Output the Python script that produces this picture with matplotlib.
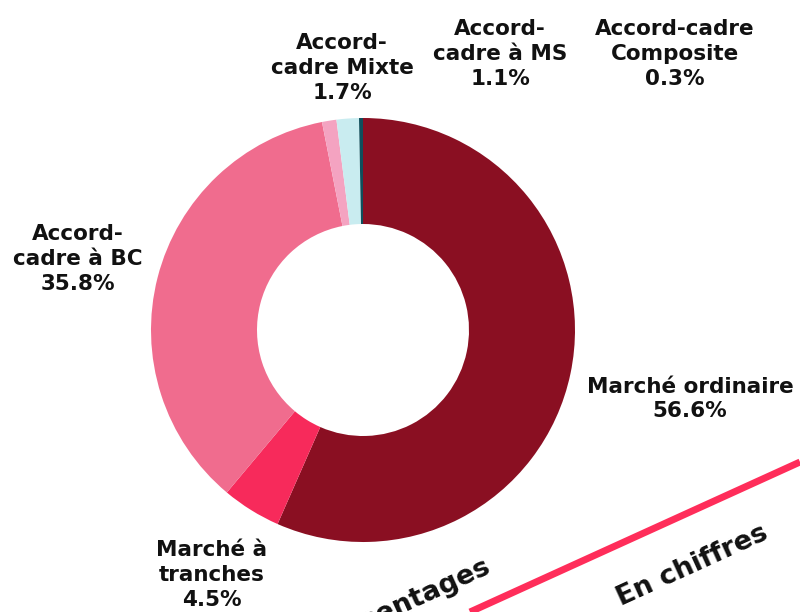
import matplotlib
matplotlib.use("Agg")
import matplotlib.pyplot as plt

categories = ["Marché ordinaire", "Marché à tranches", "Accord-cadre à BC",
              "Accord-cadre à MS", "Accord-cadre Mixte", "Accord-cadre Composite"]
values = [56.6, 4.5, 35.8, 1.1, 1.7, 0.3]
label_texts = ["Marché ordinaire\n56.6%", "Marché à\ntranches\n4.5%", "Accord-\ncadre à BC\n35.8%",
               "Accord-\ncadre à MS\n1.1%", "Accord-\ncadre Mixte\n1.7%", "Accord-cadre\nComposite\n0.3%"]
colors = ["#8A0F22", "#F72A5B", "#F06C8E", "#F4A3C1", "#C9ECF0", "#0F4F5C"]
# label block centres in pixels (x, y)
label_pos = [(690, 399), (212, 575), (78, 259), (500, 54), (342, 68), (675, 54)]

W, H = 800, 612
fig = plt.figure(figsize=(W / 100, H / 100), dpi=100)
fig.patch.set_facecolor("white")

cx, cy, r = 363, 330, 212
ax = fig.add_axes([(cx - r) / W, (H - cy - r) / H, 2 * r / W, 2 * r / H])
ax.pie(values, colors=colors, startangle=90, counterclock=False, radius=1,
       wedgeprops=dict(width=0.5, linewidth=0), frame=False)
ax.set_xlim(-1, 1)
ax.set_ylim(-1, 1)
ax.set_aspect("equal")
ax.axis("off")

font = dict(family="DejaVu Sans", fontweight="bold", fontsize=15.5, color="#111111",
            linespacing=1.3)
for txt, (px, py) in zip(label_texts, label_pos):
    fig.text(px / W, 1 - py / H, txt, ha="center", va="center", **font)

# decorative ribbon
fig.add_artist(plt.Line2D([470 / W, 1.0], [1 - 612 / H, 1 - 462 / H], color="#FF2D5A",
                          linewidth=5, transform=fig.transFigure, solid_capstyle="butt"))
fig.text(692 / W, 1 - 566 / H, "En chiffres", rotation=24.5, ha="center", va="center",
         fontsize=19.5, fontweight="bold", family="DejaVu Sans", color="#111111",
         rotation_mode="anchor")
fig.text(394 / W, 1 - 609 / H, "Pourcentages", rotation=24.5, ha="center", va="center",
         fontsize=19.5, fontweight="bold", family="DejaVu Sans", color="#111111",
         rotation_mode="anchor")

fig.savefig("out.png", dpi=100, facecolor="white")
